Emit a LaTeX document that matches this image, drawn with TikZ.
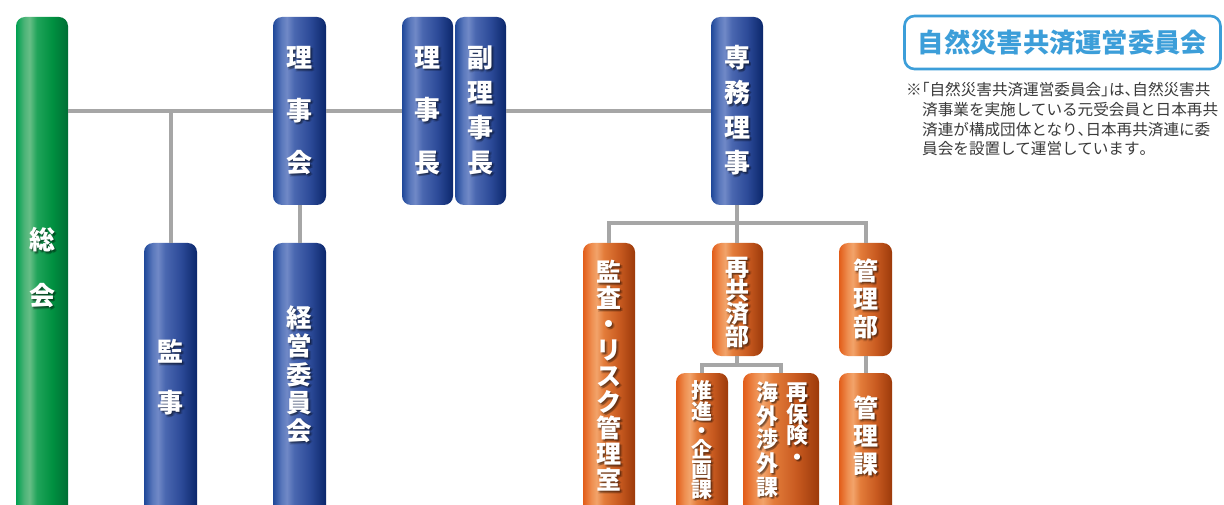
\documentclass[tikz,border=0pt]{standalone}
\usepackage{fontspec}
\newfontfamily\jp{Noto Sans CJK JP}
\newfontfamily\jph{Noto Sans CJK JP}[RawFeature=+halt]
\definecolor{lgray}{HTML}{A6A6A6}
\definecolor{infoblue}{HTML}{3C9ED9}
\definecolor{notegray}{HTML}{3A3A3A}
% blue
\definecolor{bA}{HTML}{1E4799}\definecolor{bB}{HTML}{5A78BC}\definecolor{bC}{HTML}{7089C7}
\definecolor{bD}{HTML}{4A67B0}\definecolor{bE}{HTML}{2C4A98}\definecolor{bF}{HTML}{0B276B}
% green
\definecolor{gA}{HTML}{00A050}\definecolor{gB}{HTML}{4DB478}\definecolor{gC}{HTML}{66BE86}
\definecolor{gD}{HTML}{20A45A}\definecolor{gE}{HTML}{009040}\definecolor{gF}{HTML}{006E35}
% orange
\definecolor{oA}{HTML}{E25C18}\definecolor{oB}{HTML}{EE8E50}\definecolor{oC}{HTML}{F2A36A}
\definecolor{oD}{HTML}{E37C3A}\definecolor{oE}{HTML}{C85A20}\definecolor{oF}{HTML}{9C3A0A}
\pgfdeclarehorizontalshading{bluesh}{100bp}{color(0bp)=(bA); color(25bp)=(bA); color(33bp)=(bB); color(38bp)=(bC); color(45bp)=(bD); color(60bp)=(bE); color(75bp)=(bF); color(100bp)=(bF)}
\pgfdeclarehorizontalshading{greensh}{100bp}{color(0bp)=(gA); color(25bp)=(gA); color(33bp)=(gB); color(38bp)=(gC); color(45bp)=(gD); color(60bp)=(gE); color(75bp)=(gF); color(100bp)=(gF)}
\pgfdeclarehorizontalshading{orangesh}{100bp}{color(0bp)=(oA); color(25bp)=(oA); color(33bp)=(oB); color(38bp)=(oC); color(45bp)=(oD); color(60bp)=(oE); color(75bp)=(oF); color(100bp)=(oF)}
\newcommand\vtx[5]{%
  \foreach \dx/\dy/\op in {1/1/0.22, 2/2/0.18, 2.5/1.2/0.12, 1.2/2.5/0.12}{%
    \node[txt, text=black, text opacity=\op, font=\jp\bfseries\fontsize{#3}{#4}\selectfont] at (#1+\dx,#2+\dy) {#5};}%
  \node[txt, text=white, font=\jp\bfseries\fontsize{#3}{#4}\selectfont] at (#1,#2) {#5};}
\newcommand\hp[1]{{\jph #1}}
\begin{document}
\begin{tikzpicture}[x=1pt,y=-1pt,
  gline/.style={draw=lgray, line width=4pt},
  boxbase/.style={rounded corners=9pt, inner sep=0pt, draw=none, shape=rectangle},
  greenbox/.style={boxbase, shading=greensh},
  bluebox/.style={boxbase, shading=bluesh},
  orangebox/.style={boxbase, shading=orangesh},
  txt/.style={align=center, inner sep=0pt},
  notetxt/.style={anchor=west, inner sep=0pt, text=notegray, font=\jp\fontsize{15.6}{19}\selectfont}
  ]
\useasboundingbox (0,0) rectangle (1224,505);
\clip (0,0) rectangle (1224,505);
\fill[white] (0,0) rectangle (1224,505);

% boxes (named nodes)
\node[greenbox, minimum width=52pt, minimum height=528pt] (soukai) at (42,281) {};
\node[bluebox, minimum width=53pt, minimum height=302pt] (kanji) at (170.5,394) {};
\node[bluebox, minimum width=53pt, minimum height=188pt] (rijikai) at (299.5,111) {};
\node[bluebox, minimum width=53pt, minimum height=302pt] (keiei) at (299.5,394) {};
\node[bluebox, minimum width=51pt, minimum height=188pt] (richo) at (427.5,111) {};
\node[bluebox, minimum width=51pt, minimum height=188pt] (fuku) at (480.5,111) {};
\node[bluebox, minimum width=52pt, minimum height=188pt] (senmu) at (737,111) {};
\node[orangebox, minimum width=52pt, minimum height=302pt] (kansa) at (609,394) {};
\node[orangebox, minimum width=51pt, minimum height=113pt] (saikyo) at (737.5,299.5) {};
\node[orangebox, minimum width=53pt, minimum height=113pt] (kanribu) at (865.5,299.5) {};
\node[orangebox, minimum width=52pt, minimum height=172pt] (suishin) at (702,459) {};
\node[orangebox, minimum width=76pt, minimum height=172pt] (saiho) at (781,459) {};
\node[orangebox, minimum width=53pt, minimum height=172pt] (kanrika) at (865.5,459) {};

% connectors
\coordinate (bus1) at (737,223);
\coordinate (bus2) at (741.5,365);
\draw[gline] (soukai.east |- rijikai.center) -- (rijikai.west |- rijikai.center);
\draw[gline] (rijikai.east |- rijikai.center) -- (richo.west |- rijikai.center);
\draw[gline] (fuku.east |- rijikai.center) -- (senmu.west |- rijikai.center);
\draw[gline] (kanji.north) -- (kanji.north |- rijikai.center);
\draw[gline] (rijikai.south) -- (keiei.north);
\draw[gline] (senmu.south) -- (bus1);
\draw[gline] (kansa.north) |- (bus1) -| (kanribu.north);
\draw[gline] (saikyo.north -| bus1) -- (bus1);
\draw[gline] (saikyo.south -| bus1) -- (bus1 |- bus2);
\draw[gline] (suishin.north) |- (bus2) -| (saiho.north);
\draw[gline] (kanribu.south) -- (kanrika.north);

% texts
\vtx{42}{268}{26}{56}{総\\会}
\vtx{170.5}{377.5}{26}{51}{監\\事}
\vtx{299.5}{111}{26}{52.5}{理\\事\\会}
\vtx{299.5}{374.5}{25.5}{28.25}{経\\営\\委\\員\\会}
\vtx{427.5}{110.5}{26}{52.5}{理\\事\\長}
\vtx{480.5}{110.5}{26}{35}{副\\理\\事\\長}
\vtx{737}{110.5}{26}{35}{専\\務\\理\\事}
\vtx{609}{376}{25}{26}{監\\査\\・\\リ\\ス\\ク\\管\\理\\室}
\vtx{737.5}{302.5}{24}{23.3}{再\\共\\済\\部}
\vtx{865.5}{299}{25}{28}{管\\理\\部}
\vtx{702}{440}{21}{19.2}{推\\進\\・\\企\\画\\課}
\vtx{797}{424}{22}{21.5}{再\\保\\険\\・}
\vtx{767}{439.5}{22}{23.75}{海\\外\\渉\\外\\課}
\vtx{865.5}{436}{25}{28}{管\\理\\課}

% info box
\node[draw=infoblue, line width=2.6pt, rounded corners=10pt, minimum width=316pt, minimum height=53pt, inner sep=0pt,
  text=infoblue, font=\jp\bfseries\fontsize{26.3}{30}\selectfont] (iinkai) at (1062.5,42.5) {自然災害共済運営委員会};
\node[notetxt] (n1) at (906,90) {※\hp{「}自然災害共済運営委員会\hp{」}は\hp{、}自然災害共};
\node[notetxt] (n2) at (922,110) {済事業を実施している元受会員と日本再共};
\node[notetxt] (n3) at (922,129.5) {済連が構成団体となり\hp{、}日本再共済連に委};
\node[notetxt] (n4) at (922,148.5) {員会を設置して運営しています\hp{。}};
\end{tikzpicture}
\end{document}
